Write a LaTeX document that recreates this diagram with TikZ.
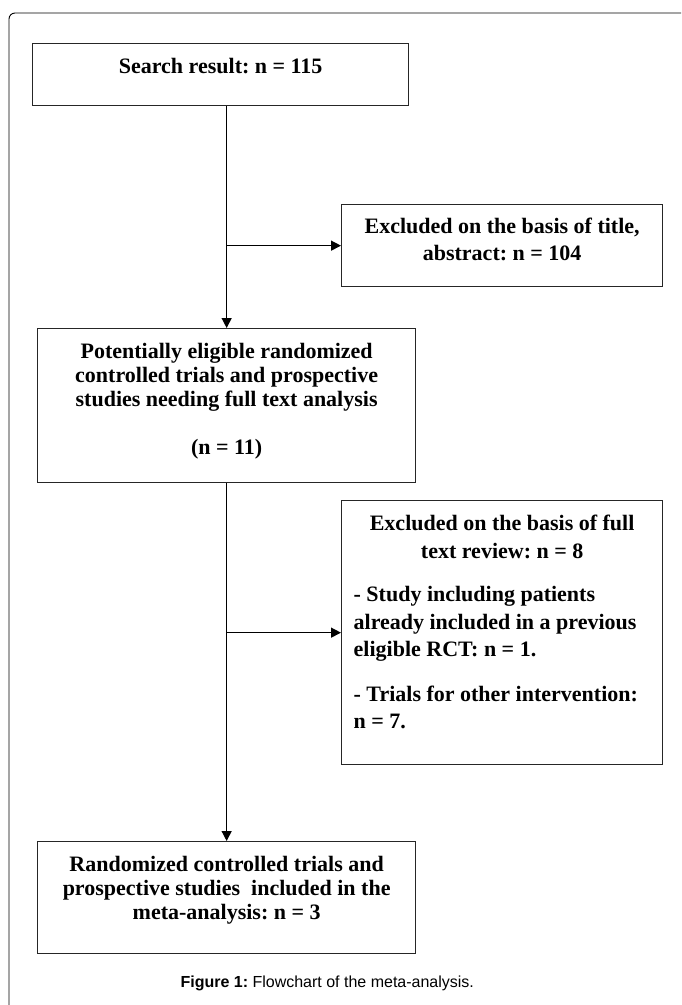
\documentclass[tikz,border=0pt]{standalone}
\usepackage{fontspec}
\setmainfont{Liberation Serif}
\newfontfamily\capfont{Liberation Sans}
\usetikzlibrary{arrows.meta}
\frenchspacing
\newcommand{\bxt}[4]{\parbox[c][#2][t]{#1}{\vspace*{#3}#4}}
\begin{document}
\begin{tikzpicture}[x=1pt,y=1pt,
  flowbox/.style={draw=black!85, line width=1.3pt, inner sep=0pt, font=\fontsize{22}{24}\selectfont\bfseries},
  widebox/.style={flowbox, font=\fontsize{22}{27.5}\selectfont\bfseries},
  conn/.style={line width=1.3pt, -{Triangle[length=10pt,width=10pt]}},
  frame/.style={line width=0.9pt, rounded corners=6pt},
  captext/.style={font=\capfont\fontsize{16}{18}\selectfont}]
\useasboundingbox (0,0) rectangle (681,-1005);
\draw[frame] (9,-1005) -- (9,-13) -- (681,-13);

\node[flowbox, anchor=north west] (b1) at (32,-43)
  {\bxt{376pt}{62pt}{13pt}{\centering\strut Search result: n = 115}};
\node[widebox, anchor=north west] (b2) at (341,-204)
  {\bxt{321pt}{82pt}{9.5pt}{\centering\strut Excluded on the basis of title,\\ abstract: n = 104}};
\node[flowbox, anchor=north west] (b3) at (37,-328)
  {\bxt{378pt}{154pt}{13pt}{\centering\strut Potentially eligible randomized\\ controlled trials and prospective\\ studies needing full text analysis\\[24pt] (n = 11)}};
\node[widebox, anchor=north west] (b4) at (341,-500)
  {\bxt{321pt}{264pt}{10.75pt}{%
    {\centering\strut Excluded on the basis of full\\ text review: n = 8\par}
    \vspace{16pt}
    {\raggedright\leftskip=12pt\strut - Study including patients\\ already included in a previous\\ eligible RCT: n = 1.\par}
    \vspace{17pt}
    {\raggedright\leftskip=12pt\strut - Trials for other intervention:\\ n = 7.\par}}};
\node[flowbox, anchor=north west] (b5) at (37,-841)
  {\bxt{378pt}{112pt}{13pt}{\centering\strut Randomized controlled trials and\\ prospective studies\ \ included in the\\ meta-analysis: n = 3}};

\draw[conn] (b1.south -| b3.north) -- (b3.north);
\draw[conn] (b3.north |- b2.west) -- (b2.west);
\draw[conn] (b3.south) -- (b5.north);
\draw[conn] (b3.south |- b4.west) -- (b4.west);

\node[captext, anchor=west] (cap) at (177,-983) {\textbf{Figure 1:} Flowchart of the meta-analysis.};
\end{tikzpicture}
\end{document}
